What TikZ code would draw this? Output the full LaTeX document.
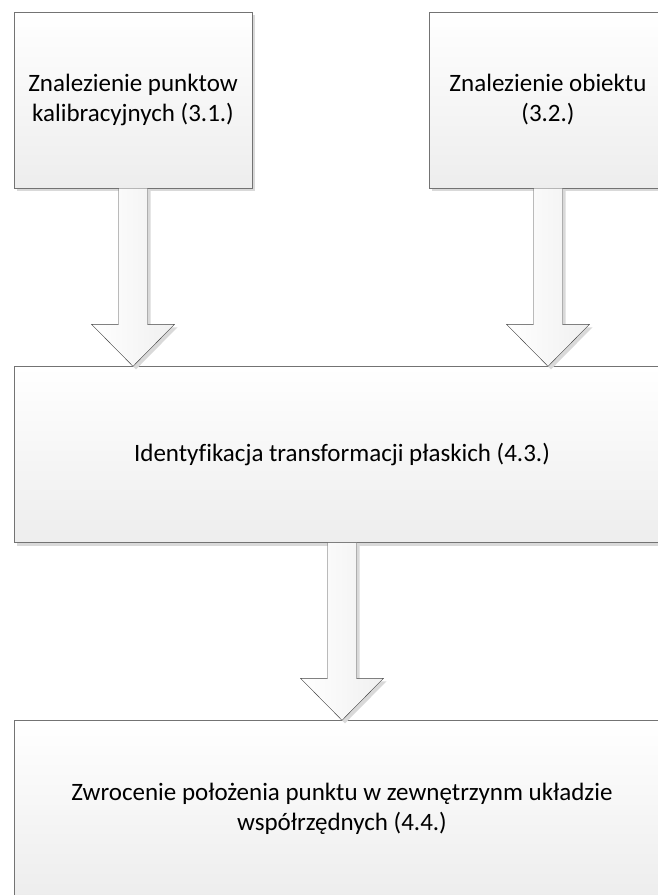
\documentclass[tikz,border=0pt]{standalone}
\usepackage{fontspec}
\setmainfont{Carlito}[Ligatures=NoCommon]
\usetikzlibrary{calc,shadows}

\newcommand{\blokstrzalka}[2]{%
  \draw[bigarrow] ($(#1)+(-14.5,0)$) -- ($(#2)+(-14.5,-42)$) -- ($(#2)+(-41.5,-42)$) -- (#2)
    -- ($(#2)+(41.5,-42)$) -- ($(#2)+(14.5,-42)$) -- ($(#1)+(14.5,0)$) -- cycle;}

\begin{document}
\begin{tikzpicture}[x=1pt, y=-1pt,
        stepbox/.style={draw=black!55, rectangle, minimum height=176pt, align=center, top color=white, bottom color=black!7, font=\fontsize{25}{30}\selectfont, drop shadow={shadow xshift=3pt, shadow yshift=-3pt, fill=black!15, opacity=1}},
        bigarrow/.style={draw=black!75, line join=miter, left color=white, right color=black!6, drop shadow={shadow xshift=3pt, shadow yshift=-3pt, fill=black!15, opacity=1}}
    ]
    \clip (0,0) rectangle (658,895);

    \node[stepbox, minimum width=238pt] (punkty) at (133,100) {Znalezienie punktow\\kalibracyjnych (3.1.)};
    \node[stepbox, minimum width=238pt] (obiekt) at (548,100) {Znalezienie obiektu\\(3.2.)};
    \node[stepbox, minimum width=656pt] (transf) at (342,454.5) {Identyfikacja transformacji płaskich (4.3.)};
    \node[stepbox, minimum width=656pt] (wynik) at (342,808.5) {Zwrocenie położenia punktu w zewnętrzynm układzie\\współrzędnych (4.4.)};

    \coordinate (tip1) at (punkty.south |- transf.north);
    \coordinate (tip2) at (obiekt.south |- transf.north);
    \coordinate (tip3) at (transf.south |- wynik.north);

    \blokstrzalka{punkty.south}{tip1}
    \blokstrzalka{obiekt.south}{tip2}
    \blokstrzalka{transf.south}{tip3}

\end{tikzpicture}
\end{document}
